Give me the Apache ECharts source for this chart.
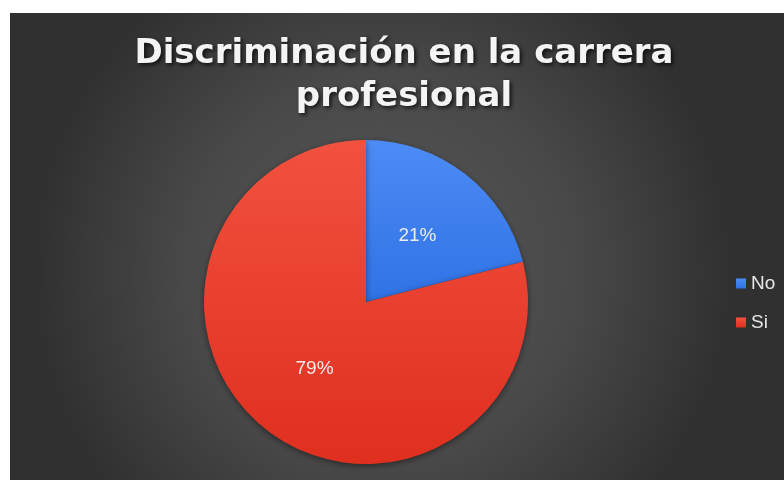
<!DOCTYPE html>
<html>
<head>
<meta charset="utf-8">
<script src="https://cdn.jsdelivr.net/npm/echarts@6/dist/echarts.min.js"></script>
<style>
  html, body { margin: 0; padding: 0; background: #ffffff; }
  #chart { width: 784px; height: 480px; }
</style>
</head>
<body>
<div id="chart"></div>
<script>
// Survey answers and their share of responses (%)
const categories = ['No', 'Si'];
const shares = [21, 79];
const titleText = 'Discriminación en la carrera\nprofesional';

const sliceColors = [
  { top: '#4d8cf6', bottom: '#2f72e4' },
  { top: '#f2513f', bottom: '#df2f1f' }
];

const chart = echarts.init(document.getElementById('chart'), null, { renderer: 'canvas' });

const pieData = categories.map((name, i) => ({
  name: name,
  value: shares[i],
  itemStyle: {
    color: new echarts.graphic.LinearGradient(0, 0, 0, 1, [
      { offset: 0, color: sliceColors[i].top },
      { offset: 1, color: sliceColors[i].bottom }
    ])
  }
}));

chart.setOption({
  backgroundColor: '#ffffff',
  animation: false,
  graphic: [{
    type: 'rect',
    z: -10,
    silent: true,
    shape: { x: 10, y: 13, width: 774, height: 467 },
    style: {
      fill: new echarts.graphic.RadialGradient(0.48, 0.55, 0.75, [
        { offset: 0, color: '#575757' },
        { offset: 0.55, color: '#494949' },
        { offset: 1, color: '#303030' }
      ])
    }
  }],
  title: {
    text: titleText,
    left: 399,
    top: 28,
    textAlign: 'center',
    textStyle: {
      fontFamily: 'DejaVu Sans',
      fontWeight: 'bold',
      fontSize: 34,
      lineHeight: 43,
      color: '#f4f4f4',
      textShadowColor: 'rgba(0,0,0,0.75)',
      textShadowBlur: 4,
      textShadowOffsetX: 2,
      textShadowOffsetY: 2
    }
  },
  legend: {
    orient: 'vertical',
    left: 731,
    top: 269,
    itemWidth: 10,
    itemHeight: 10,
    itemGap: 20,
    icon: 'rect',
    data: categories,
    textStyle: {
      color: '#e6e6e6',
      fontFamily: 'Liberation Sans',
      fontSize: 19
    }
  },
  series: [{
    type: 'pie',
    center: [366, 302],
    radius: [0, 162],
    startAngle: 90,
    clockwise: true,
    data: pieData,
    itemStyle: {
      borderWidth: 0,
      shadowColor: 'rgba(0,0,0,0.45)',
      shadowBlur: 6,
      shadowOffsetY: 2
    },
    label: {
      show: true,
      position: 'inside',
      formatter: '{c}%',
      color: '#ececec',
      fontFamily: 'Liberation Sans',
      fontSize: 19
    },
    labelLine: { show: false },
    emphasis: { disabled: true }
  }]
});
</script>
</body>
</html>
